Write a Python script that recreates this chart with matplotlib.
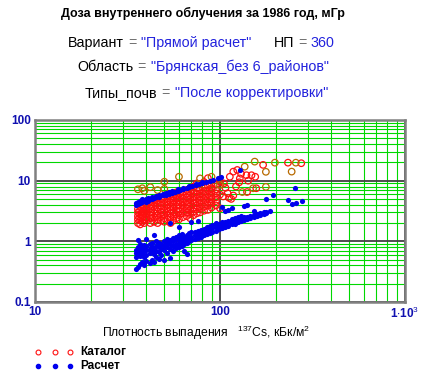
import matplotlib
matplotlib.use("Agg")
import matplotlib.pyplot as plt

plt.rcParams['font.family'] = ['Liberation Sans', 'DejaVu Sans']
plt.rcParams['mathtext.fontset'] = 'custom'
plt.rcParams['mathtext.rm'] = 'Liberation Sans'
plt.rcParams['mathtext.bf'] = 'Liberation Sans:bold'

# Каталог (red open circles)
cat_x = [36, 36, 36, 36, 36,
         37, 37, 37, 37, 37, 37,
         38, 38, 38, 38, 38, 38,
         39, 39, 39, 39, 39,
         40, 40, 40, 40, 40, 40,
         42, 42, 42, 42, 42, 42, 42,
         44, 44, 44, 44, 44, 44, 44,
         46, 46, 46, 46, 46, 46, 46, 46,
         48, 48, 48, 48, 48, 48, 48,
         50, 50, 50, 50, 50, 50, 50, 50,
         52, 52, 52, 52, 52, 52, 52, 52,
         54, 54, 54, 54, 54, 54, 54, 54,
         56, 56, 56, 56, 56, 56, 56,
         58, 58, 58, 58, 58, 58, 58, 58,
         60, 60, 60, 60, 60, 60, 60, 60,
         63, 63, 63, 63, 63, 63, 63, 63,
         66, 66, 66, 66, 66, 66, 66, 66,
         69, 69, 69, 69, 69, 69, 69, 69, 69,
         72, 72, 72, 72, 72, 72, 72, 72,
         75, 75, 75, 75, 75, 75, 75, 75,
         78, 78, 78, 78, 78, 78, 78,
         82, 82, 82, 82, 82, 82, 82, 82,
         86, 86, 86, 86, 86, 86, 86, 86,
         90, 90, 90, 90, 90, 90, 90,
         95, 95, 95, 95, 95, 95,
         100, 100, 100,
         104, 107, 110, 113, 115, 118, 118, 124, 127, 128, 139, 142, 148,
         155, 157, 105, 122, 130, 112, 140, 171, 233, 275]
cat_y = [2.0, 2.3, 2.6, 3.0, 3.4,
         1.9, 2.2, 2.5, 2.8, 3.2, 3.7,
         2.1, 2.4, 2.7, 3.1, 3.5, 4.0,
         2.0, 2.3, 2.9, 3.3, 3.8,
         2.2, 2.5, 2.8, 3.2, 3.6, 4.1,
         2.0, 2.4, 2.7, 3.0, 3.5, 4.0, 4.5,
         2.1, 2.5, 2.9, 3.3, 3.8, 4.3, 4.8,
         2.0, 2.3, 2.7, 3.1, 3.6, 4.2, 4.7, 5.2,
         2.2, 2.6, 3.0, 3.4, 3.9, 4.4, 5.0,
         2.1, 2.4, 2.8, 3.2, 3.7, 4.2, 4.8, 5.4,
         2.3, 2.7, 3.1, 3.5, 4.0, 4.5, 5.1, 5.7,
         2.0, 2.5, 2.9, 3.3, 3.8, 4.4, 5.0, 6.0,
         2.2, 2.6, 3.0, 3.6, 4.1, 4.7, 5.3,
         2.4, 2.8, 3.2, 3.8, 4.3, 5.0, 5.6, 6.4,
         2.3, 2.7, 3.1, 3.5, 4.0, 4.6, 5.2, 6.0,
         2.5, 2.9, 3.4, 3.9, 4.5, 5.1, 5.8, 6.6,
         2.6, 3.0, 3.5, 4.0, 4.6, 5.3, 6.1, 7.0,
         2.4, 2.8, 3.3, 3.8, 4.3, 5.0, 5.7, 6.5, 7.5,
         2.7, 3.1, 3.6, 4.2, 4.8, 5.5, 6.3, 8.0,
         2.9, 3.4, 3.9, 4.5, 5.2, 6.0, 6.9, 9.0,
         3.0, 3.5, 4.1, 4.7, 5.4, 6.2, 7.2,
         3.2, 3.7, 4.3, 5.0, 5.8, 6.7, 7.8, 9.5,
         3.3, 3.9, 4.5, 5.2, 6.0, 7.0, 8.3, 11.0,
         3.6, 4.2, 4.9, 5.6, 6.5, 7.5, 9.0,
         3.9, 4.6, 5.3, 6.2, 7.2, 8.5,
         3.5, 5.9, 9.6,
         5.5, 7.6, 6.2, 11.6, 5.0, 14.1, 5.7, 15.0, 9.4, 10.9, 12.3, 10.0, 12.3,
         11.6, 7.5, 9.0, 8.0, 13.0, 5.2, 6.5, 18.2, 19.8, 19.4]

# Каталог points drawn with the darker (olive) edge
cat_dark_x = [36, 38, 39, 42, 46, 50, 50, 60, 78, 90, 100, 132, 136, 151, 154, 177, 177, 198, 244, 257]
cat_dark_y = [7.2, 7.5, 6.8, 7.8, 7.0, 7.3, 9.6, 11.6, 10.9, 11.6, 8.5, 6.5, 17.0, 7.5, 20.6, 14.0, 7.9, 19.8, 14.1, 19.8]

# Расчет (blue dots)
calc_x = [35, 35, 36, 36, 37, 37, 38, 38, 39, 40, 40, 41, 41, 42, 43, 43, 44, 45, 45,
          47, 47, 49, 49, 51, 51, 53, 53, 55, 55, 57, 59, 59, 61, 63, 63, 66, 68, 68,
          71, 74, 74, 77, 80, 80, 84, 88, 92, 97, 101, 129,
          35, 35, 35, 35,
          36, 36, 36, 36, 36,
          37, 37, 37, 37, 37,
          38, 38, 38, 38,
          39, 39, 39, 39, 39,
          40, 40, 40, 40, 40,
          42, 42, 42, 42,
          43, 43, 43, 43,
          44, 44, 44, 44,
          45, 45, 45, 45,
          47, 47, 47, 47,
          48, 48, 48,
          50, 50, 50, 50,
          52, 52, 52, 52,
          54, 54, 54, 54, 54,
          56, 56, 56, 56,
          58, 58, 58, 58,
          60, 60, 60, 60, 60,
          62, 62, 62, 62,
          64, 64, 64, 64,
          66, 66, 66, 66,
          68, 68, 68,
          70, 70, 70, 70,
          73, 73, 73,
          76, 76, 76, 76,
          79, 79, 79,
          82, 82, 82,
          85, 85, 85,
          88, 88, 88,
          91, 91, 91,
          95, 95, 95, 95,
          99, 99, 99,
          103, 103, 103, 103,
          107, 107, 107, 107,
          111, 111, 111, 111,
          116, 116, 116, 116,
          120, 120, 120,
          125, 125, 125,
          130, 130, 130,
          135, 135, 135,
          140, 140, 140,
          146, 146,
          152, 152, 152,
          158, 158,
          165, 165,
          172, 172,
          178, 178, 178,
          186, 194, 233, 244, 254, 257, 276]
calc_y = [4.0, 4.3, 4.1, 4.5, 4.3, 4.7, 4.4, 4.9, 4.6, 4.5, 4.9, 4.7, 5.1, 4.9, 5.0, 5.3, 5.1, 5.3, 5.6,
          5.4, 5.8, 5.7, 6.0, 5.9, 6.3, 6.1, 6.5, 6.3, 6.8, 6.6, 6.8, 7.2, 7.0, 7.3, 7.6, 7.5, 7.8, 8.1,
          8.1, 8.4, 8.8, 8.7, 9.1, 9.5, 9.5, 10.0, 10.4, 11.0, 11.6, 15.0,
          0.35, 0.55, 0.65, 0.72,
          0.38, 0.6, 0.7, 0.82, 1.05,
          0.42, 0.58, 0.66, 0.75, 0.9,
          0.45, 0.62, 0.7, 0.8,
          0.4, 0.56, 0.68, 0.78, 0.88,
          0.48, 0.6, 0.72, 0.85, 1.1,
          0.44, 0.64, 0.75, 0.9,
          0.5, 0.68, 0.8, 0.95,
          0.46, 0.62, 0.78, 1.25,
          0.55, 0.7, 0.85, 1.0,
          0.52, 0.66, 0.82, 0.95,
          0.6, 0.75, 0.9,
          0.5, 0.72, 0.85, 1.0,
          0.65, 0.8, 0.95, 1.1,
          0.53, 0.75, 0.9, 1.05, 2.0,
          0.7, 0.85, 1.0, 1.15,
          0.78, 0.92, 1.08, 1.2,
          0.8, 0.95, 1.1, 1.25, 1.75,
          0.85, 1.0, 1.15, 1.3,
          0.68, 0.9, 1.05, 1.2,
          0.62, 0.95, 1.1, 1.28,
          1.0, 1.15, 1.35,
          1.05, 1.2, 1.4, 2.1,
          1.1, 1.25, 1.45,
          1.15, 1.3, 1.5, 2.2,
          1.2, 1.38, 1.55,
          1.25, 1.45, 1.62,
          1.3, 1.5, 1.7,
          1.38, 1.58, 1.78,
          1.45, 1.65, 1.85,
          1.5, 1.72, 1.9, 2.0,
          1.58, 1.8, 1.95,
          1.65, 1.85, 2.05, 3.7,
          1.75, 1.95, 2.1, 3.2,
          1.8, 2.05, 2.2, 3.3,
          1.9, 2.1, 2.3, 3.5,
          1.95, 2.2, 2.4,
          2.05, 2.3, 2.5,
          2.15, 2.4, 2.6,
          2.25, 2.5, 3.8,
          2.3, 2.55, 4.0,
          2.4, 2.65,
          2.5, 2.7, 3.2,
          2.6, 2.8,
          2.7, 2.9,
          2.8, 3.0,
          2.9, 3.1, 4.9,
          3.2, 5.7, 4.8, 4.1, 7.7, 4.3, 4.7]

x_ticks = [10, 100, 1000]
x_tick_labels = ['10', '100', r'1$\cdot$10$^{3}$']
y_ticks = [0.1, 1, 10, 100]
y_tick_labels = ['0.1', '1', '10', '100']

W, H = 436, 381
fig = plt.figure(figsize=(W / 100, H / 100), dpi=100)
ax = fig.add_axes([35 / W, 1 - 302 / H, 370 / W, 182 / H])
ax.set_xscale('log')
ax.set_yscale('log')
ax.set_xlim(10, 1000)
ax.set_ylim(0.1, 100)

# grid
ax.grid(which='minor', color='#00d800', linewidth=0.8)
ax.grid(which='major', color='#404040', linewidth=1.3)
ax.set_axisbelow(True)
for s in ax.spines.values():
    s.set_color('#808080')
    s.set_linewidth(1.8)

ax.scatter(cat_x, cat_y, s=22, facecolors='none', edgecolors='#ff1010', linewidths=0.9, zorder=3)
ax.scatter(cat_dark_x, cat_dark_y, s=22, facecolors='none', edgecolors='#b86a00', linewidths=0.9, zorder=3)
ax.scatter(calc_x, calc_y, s=14, color='#0000ee', linewidths=0, zorder=4)

ax.set_xticks(x_ticks)
ax.set_xticklabels(x_tick_labels)
ax.set_yticks(y_ticks)
ax.set_yticklabels(y_tick_labels)
ax.tick_params(which='both', length=0, labelsize=8.5, labelcolor='#1010b0', pad=3)
for lab in ax.get_xticklabels() + ax.get_yticklabels():
    lab.set_fontweight('bold')

# header
fig.text(203 / W, 1 - 13 / H, 'Доза внутреннего облучения за 1986 год, мГр',
         ha='center', va='center', fontsize=9, fontweight='bold', color='black')

renderer = fig.canvas.get_renderer()
blue = '#2222dd'


def text_line(x0, y0, parts):
    x = x0 / W
    for s, color, gap in parts:
        x += gap / W
        t = fig.text(x, 1 - y0 / H, s, color=color, fontsize=10.3, ha='left', va='center')
        x += t.get_window_extent(renderer).width / W


text_line(68, 43, [('Вариант', 'black', 0), ('=', '#707070', 4), ('"Прямой расчет"', blue, 5),
                   ('НП', 'black', 22), ('=', '#707070', 4), ('360', blue, 4)])
text_line(77, 67, [('Область', 'black', 0), ('=', '#707070', 4), ('"Брянская_без 6_районов"', blue, 5)])
text_line(85, 93, [('Типы_почв', 'black', 0), ('=', '#707070', 4), ('"После корректировки"', blue, 5)])

fig.text(206 / W, 1 - 333 / H, r'Плотность выпадения   $^{137}$Cs, кБк/м$^{2}$',
         ha='center', va='center', fontsize=8.7, color='black')

# legend
ax_leg = [38, 55, 70]
for px in ax_leg:
    fig.lines.append(plt.Line2D([px / W], [1 - 352 / H], marker='o', ms=3.5, mfc='none',
                                mec='#ff1010', mew=0.8, transform=fig.transFigure))
    fig.lines.append(plt.Line2D([px / W], [1 - 366 / H], marker='o', ms=3, mfc='#0000ee',
                                mec='#0000ee', transform=fig.transFigure))
fig.text(80 / W, 1 - 352 / H, 'Каталог', ha='left', va='center', fontsize=8.5, fontweight='bold')
fig.text(80 / W, 1 - 366 / H, 'Расчет', ha='left', va='center', fontsize=8.5, fontweight='bold')

fig.savefig('out.png', dpi=100, facecolor='white')
